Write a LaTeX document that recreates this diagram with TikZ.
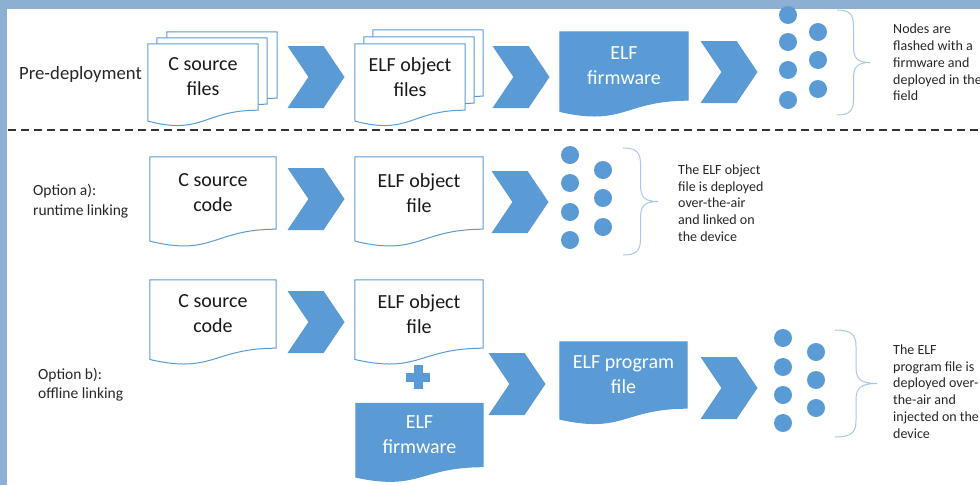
\documentclass[tikz,border=0pt]{standalone}
\usepackage{fontspec}
\setmainfont{Carlito}
\usetikzlibrary{calc, shapes.symbols, backgrounds}

\definecolor{officeblue}{HTML}{5B9BD5}
\definecolor{framegrey}{HTML}{8DB0D2}
\definecolor{bracecol}{HTML}{A9C8E6}
\definecolor{textgrey}{HTML}{262626}

% outline of a document sheet with a wavy lower edge, hung below node #2
\newcommand{\docshape}[2][]{%
  \path[#1] (#2.north west) -- (#2.north east) -- (#2.south east)
    .. controls (#2.south) and ($(#2.south)!-0.381!(#2.north)$)
    .. ($(#2.south west)!-0.1646!(#2.north west)$) -- cycle;}

% right curly brace: left x, top y, bottom y, width
\newcommand{\nodebrace}[4]{%
  \pgfmathsetmacro\bx{#1+#4/2}\pgfmathsetmacro\bc{(#2+#3)/2}\pgfmathsetmacro\br{(#3-#2)/6.5}
  \draw[brace line] (#1,#2) .. controls ({#1+#4*0.4},#2) and (\bx,{#2+\br*0.3}) .. (\bx,{#2+\br})
    -- (\bx,{\bc-\br}) .. controls (\bx,{\bc-\br*0.3}) and ({#1+#4*0.6},\bc) .. ({#1+#4},\bc)
    .. controls ({#1+#4*0.6},\bc) and (\bx,{\bc+\br*0.3}) .. (\bx,{\bc+\br})
    -- (\bx,{#3-\br}) .. controls (\bx,{#3-\br*0.3}) and ({#1+#4*0.4},#3) .. (#1,#3);}

\begin{document}
\begin{tikzpicture}[x=1pt,y=-1pt,
  doc/.style={rectangle,inner sep=0pt,align=center,font=\fontsize{20}{25}\selectfont,text=black!90},
  filled doc/.style={doc,text=white},
  chevron/.style={signal,signal to=east,signal from=west,signal pointer angle=112,
    fill=officeblue,minimum width=57pt,minimum height=62pt,inner sep=0pt},
  nodedot/.style={circle,fill=officeblue,minimum size=18pt,inner sep=0pt},
  rowtitle/.style={anchor=west,align=left,inner sep=0pt,text=black!85},
  note/.style={anchor=west,align=left,inner sep=0pt,font=\fontsize{14}{16.7}\selectfont,text=textgrey},
  page/.style={fill=white,draw=officeblue,line width=1pt},
  blue page/.style={fill=officeblue,draw=officeblue,line width=1pt},
  brace line/.style={draw=bracecol,line width=1pt}]
  \useasboundingbox (0,0) rectangle (980,485);

  % frame and separator
  \fill[framegrey] (0,0) rectangle (980,9);
  \fill[framegrey] (0,0) rectangle (7,485);
  \draw[black!80,line width=1.5pt,dash pattern=on 8pt off 5pt] (8,130) -- (980,130);

  % pre-deployment
  \node[rowtitle,font=\fontsize{18.7}{22}\selectfont] (pre) at (19,75) {Pre-deployment};
  \node[doc,minimum width=110,minimum height=66] (src1c) at (222,65) {};
  \node[doc,minimum width=110,minimum height=66] (src1b) at (212,71) {};
  \node[doc,minimum width=110,minimum height=66] (src1) at (203,77) {C source\\files};
  \node[chevron] (c11) at (316,77) {};
  \node[doc,minimum width=110,minimum height=66] (obj1c) at (428,63) {};
  \node[doc,minimum width=110,minimum height=66] (obj1b) at (419,70) {};
  \node[doc,minimum width=110,minimum height=66] (obj1) at (410,77) {ELF object\\files};
  \node[chevron] (c12) at (521,77) {};
  \node[filled doc,minimum width=128,minimum height=68] (fw1) at (624,66) {ELF\\firmware};
  \node[chevron] (c13) at (729,72) {};
  \foreach \y in {15,42,70,100} \node[nodedot] (n1a\y) at (788,\y) {};
  \foreach \y in {32,60,89} \node[nodedot] (n1b\y) at (818,\y) {};
  \nodebrace{837}{10}{115}{33}
  \node[note] (note1) at (893,62.5) {Nodes are\\flashed with a\\firmware and\\deployed in the\\field};

  % option a)
  \node[rowtitle,font=\fontsize{15.5}{19.5}\selectfont] (opta) at (33,201) {Option a):\\runtime linking};
  \node[doc,minimum width=126,minimum height=72] (src2) at (213,193) {C source\\code};
  \node[chevron] (c21) at (316,199) {};
  \node[doc,minimum width=128,minimum height=72] (obj2) at (419,193) {ELF object\\file};
  \node[chevron] (c22) at (520,202) {};
  \foreach \y in {155,183,212,240} \node[nodedot] (n2a\y) at (570,\y) {};
  \foreach \y in {170,198,227} \node[nodedot] (n2b\y) at (603,\y) {};
  \nodebrace{623}{148}{255}{35}
  \node[note] (note2) at (678,203) {The ELF object\\file is deployed\\over-the-air\\and linked on\\the device};

  % option b)
  \node[rowtitle,font=\fontsize{15.5}{19}\selectfont] (optb) at (38,385) {Option b):\\offline linking};
  \node[doc,minimum width=126,minimum height=68] (src3) at (213,314) {C source\\code};
  \node[chevron] (c31) at (316,322) {};
  \node[doc,minimum width=128,minimum height=68] (obj3) at (419,314) {ELF object\\file};
  \coordinate (plus) at (418,377);
  \fill[officeblue] ([shift={(-12,-4.5)}]plus) rectangle ([shift={(12,4.5)}]plus);
  \fill[officeblue] ([shift={(-4.5,-12)}]plus) rectangle ([shift={(4.5,12)}]plus);
  \node[filled doc,minimum width=127,minimum height=63] (fw3) at (419.5,435) {ELF\\firmware};
  \node[chevron] (c32) at (517,384) {};
  \node[filled doc,minimum width=127,minimum height=66] (prog3) at (623.5,375) {ELF program\\file};
  \node[chevron] (c33) at (729,388) {};
  \foreach \y in {338,367,395,423} \node[nodedot] (n3a\y) at (783,\y) {};
  \foreach \y in {352,380,408} \node[nodedot] (n3b\y) at (816,\y) {};
  \nodebrace{835}{330}{437}{42}
  \node[note] (note3) at (893,391.5) {The ELF\\program file is\\deployed over-\\the-air and\\injected on the\\device};

  % sheets behind the labels
  \begin{scope}[on background layer]
    \docshape[page]{src1c} \docshape[page]{src1b} \docshape[page]{src1}
    \docshape[page]{obj1c} \docshape[page]{obj1b} \docshape[page]{obj1}
    \docshape[blue page]{fw1}
    \docshape[page]{src2} \docshape[page]{obj2}
    \docshape[page]{src3} \docshape[page]{obj3}
    \docshape[blue page]{fw3} \docshape[blue page]{prog3}
  \end{scope}
\end{tikzpicture}
\end{document}
